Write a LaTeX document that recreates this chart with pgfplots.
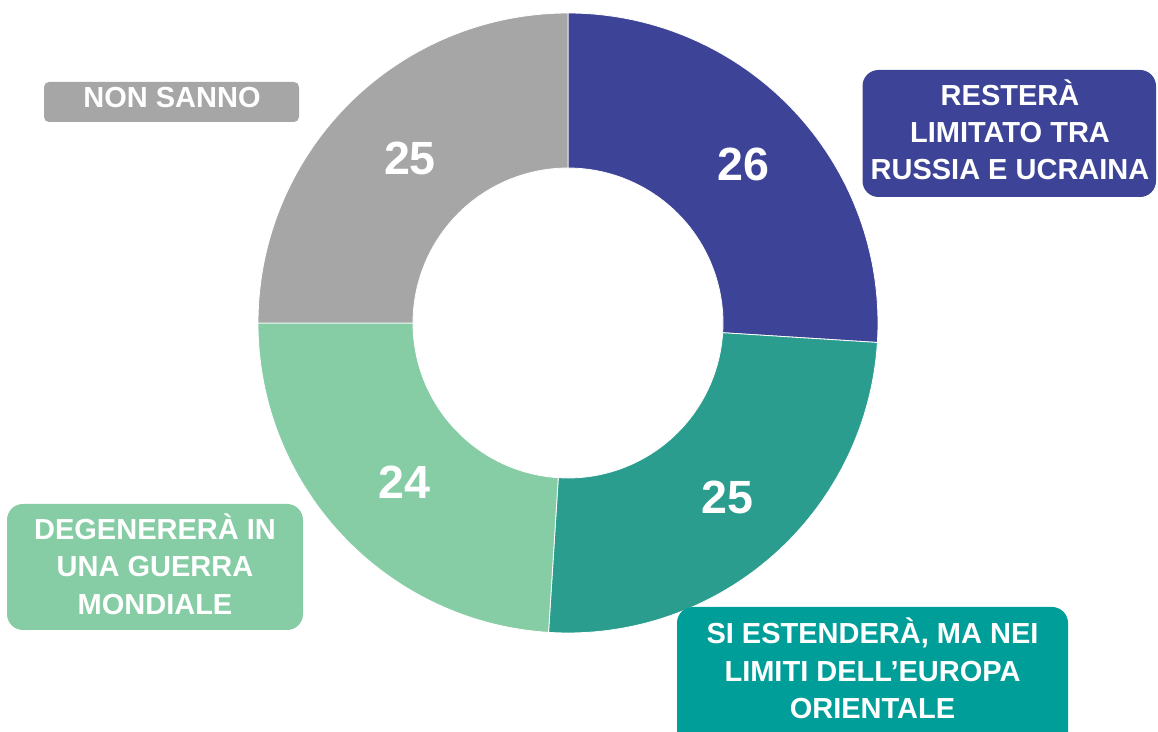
\documentclass[border=0pt]{standalone}
\usepackage{pgfplots}
\usepackage{pgfplotstable}
\pgfplotsset{compat=1.18}
\usepackage{fontspec}
\setmainfont{Liberation Sans}
\definecolor{segA}{HTML}{3D4497}
\definecolor{segB}{HTML}{2A9D8F}
\definecolor{segC}{HTML}{86CDA5}
\definecolor{segD}{HTML}{A6A6A6}
\definecolor{boxB}{HTML}{009E99}
\newcommand\lab{\fontsize{14.5}{18}\selectfont\bfseries}
\newcommand\numfont{\fontsize{23.3}{27}\selectfont\bfseries}
\pgfplotstableread{
value name
26 segA
25 segB
24 segC
25 segD
}\datatable
\begin{document}
\begin{tikzpicture}
\begin{axis}[x=0.5pt,y=0.5pt,xmin=0,xmax=1158,ymin=0,ymax=732,y dir=reverse,hide axis,clip=true]
\coordinate (SW) at (axis cs:0,732);
\coordinate (NE) at (axis cs:1158,0);
\gdef\astart{90}
\pgfplotsforeachungrouped \i in {0,...,3}{%
  \pgfplotstablegetelem{\i}{value}\of\datatable \let\v\pgfplotsretval
  \pgfplotstablegetelem{\i}{name}\of\datatable \let\c\pgfplotsretval
  \pgfmathsetmacro\aend{\astart-3.6*\v}%
  \pgfmathsetmacro\amid{(\astart+\aend)/2}%
  \edef\doit{\noexpand\fill[\c,draw=white,line width=0.4pt] ([shift={(\astart:155pt)}]axis cs:568,323) arc[start angle=\astart,end angle=\aend,radius=155pt] -- ([shift={(\aend:77.5pt)}]axis cs:568,323) arc[start angle=\aend,end angle=\astart,radius=77.5pt] -- cycle;
  \noexpand\node[text=white,font=\noexpand\numfont,inner sep=0pt] at ([shift={(\amid:116pt)}]axis cs:574,323) {\v};}%
  \doit
  \global\let\astart\aend
}
% label boxes
\fill[segD,rounded corners=2.5pt] (axis cs:44,82) rectangle (axis cs:299,122);
\node[anchor=base,text=white,font=\lab,inner sep=0pt] at (axis cs:172,107.3) {NON SANNO};
\fill[segA,rounded corners=8pt] (axis cs:862.5,70) rectangle (axis cs:1156,197);
\node[anchor=base,text=white,font=\lab,inner sep=0pt] at (axis cs:1010,105.7) {RESTERÀ};
\node[anchor=base,text=white,font=\lab,inner sep=0pt] at (axis cs:1010,143) {LIMITATO TRA};
\node[anchor=base,text=white,font=\lab,inner sep=0pt] at (axis cs:1010,180) {RUSSIA E UCRAINA};
\fill[segC,rounded corners=8pt] (axis cs:7,504) rectangle (axis cs:303,630);
\node[anchor=base,text=white,font=\lab,inner sep=0pt] at (axis cs:155,540) {DEGENERERÀ IN};
\node[anchor=base,text=white,font=\lab,inner sep=0pt] at (axis cs:155,577) {UNA GUERRA};
\node[anchor=base,text=white,font=\lab,inner sep=0pt] at (axis cs:155,614.5) {MONDIALE};
\fill[boxB,rounded corners=8pt] (axis cs:677,607) rectangle (axis cs:1068,750);
\node[anchor=base,text=white,font=\lab,inner sep=0pt] at (axis cs:872.5,643.5) {SI ESTENDERÀ, MA NEI};
\node[anchor=base,text=white,font=\lab,inner sep=0pt] at (axis cs:872.5,681.5) {LIMITI DELL’EUROPA};
\node[anchor=base,text=white,font=\lab,inner sep=0pt] at (axis cs:872.5,718.5) {ORIENTALE};
\end{axis}
\pgfresetboundingbox
\path (SW) rectangle (NE);
\end{tikzpicture}
\end{document}
